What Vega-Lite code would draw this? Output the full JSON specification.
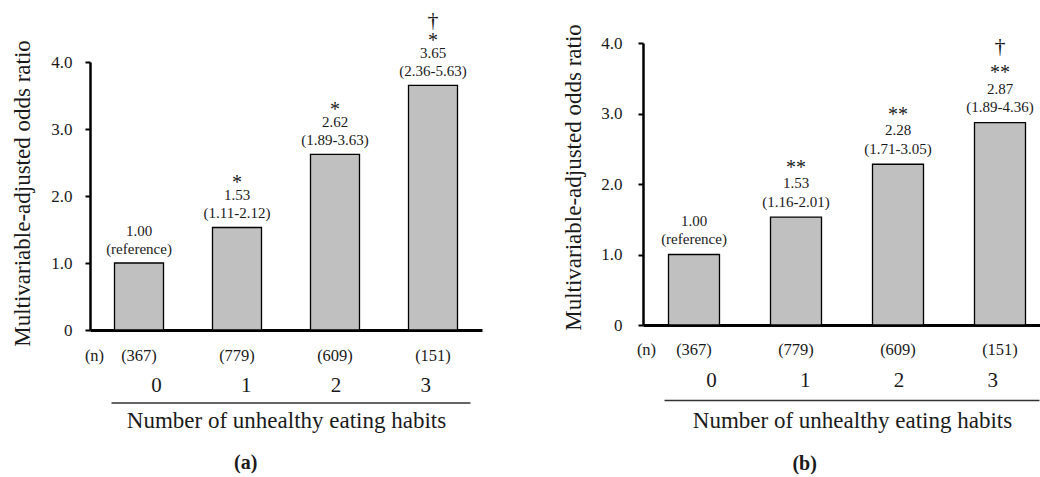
{
  "$schema": "https://vega.github.io/schema/vega-lite/v6.json",
  "width": 1040,
  "height": 477,
  "autosize": {"type": "none"},
  "padding": 0,
  "background": "white",
  "config": {
    "font": "Liberation Serif",
    "view": {"stroke": null},
    "axis": {"labelFont": "Liberation Serif", "titleFont": "Liberation Serif", "grid": false},
    "text": {"font": "Liberation Serif"}
  },
  "datasets": {
    "a": [
      {"nlab": "(367)", "cat": "0", "or": 1.00, "ci": "(reference)", "star": "", "dag": ""},
      {"nlab": "(779)", "cat": "1", "or": 1.53, "ci": "(1.11-2.12)", "star": "*", "dag": ""},
      {"nlab": "(609)", "cat": "2", "or": 2.62, "ci": "(1.89-3.63)", "star": "*", "dag": ""},
      {"nlab": "(151)", "cat": "3", "or": 3.65, "ci": "(2.36-5.63)", "star": "*", "dag": "†"}
    ],
    "b": [
      {"nlab": "(367)", "cat": "0", "or": 1.00, "ci": "(reference)", "star": "", "dag": ""},
      {"nlab": "(779)", "cat": "1", "or": 1.53, "ci": "(1.16-2.01)", "star": "**", "dag": ""},
      {"nlab": "(609)", "cat": "2", "or": 2.28, "ci": "(1.71-3.05)", "star": "**", "dag": ""},
      {"nlab": "(151)", "cat": "3", "or": 2.87, "ci": "(1.89-4.36)", "star": "**", "dag": "†"}
    ],
    "pa": [{"panel": "(a)"}],
    "pb": [{"panel": "(b)"}]
  },
  "layer": [
    {
      "layer": [
        {
          "data": {"name": "a"},
          "encoding": {
            "x": {
              "field": "nlab", "type": "nominal", "sort": null,
              "scale": {"range": [90, 482], "paddingInner": 0.5, "paddingOuter": 0.25},
              "axis": {
                "orient": "bottom", "offset": -147, "domain": true, "domainColor": "#000", "domainWidth": 3,
                "ticks": false, "tickSize": 0, "labelAngle": 0, "labelPadding": 25, "labelBaseline": "middle",
                "labelFontSize": 16.5, "labelColor": "#1a1a1a",
                "title": "(n)", "titleX": 94, "titleY": 25, "titleAngle": 0, "titleBaseline": "middle", "titleAlign": "center",
                "titleFontSize": 16.5, "titleFontWeight": "normal", "titleColor": "#1a1a1a"
              }
            },
            "y": {
              "field": "or", "type": "quantitative",
              "scale": {"domain": [0, 4], "range": [330, 62], "nice": false},
              "axis": {
                "orient": "left", "offset": -90, "values": [0, 1, 2, 3, 4],
                "labelExpr": "datum.value == 0 ? '0' : format(datum.value, '.1f')",
                "domain": true, "domainColor": "#000", "domainWidth": 2.5,
                "ticks": true, "tickSize": 5, "tickWidth": 2, "tickColor": "#000",
                "labelPadding": 13, "labelFontSize": 17, "labelColor": "#1a1a1a", "labelBaseline": "middle",
                "title": "Multivariable-adjusted odds ratio", "titleX": -68, "titleY": 193, "titleAngle": -90,
                "titleAlign": "center", "titleBaseline": "middle", "titleFontSize": 23, "titleFontWeight": "normal", "titleColor": "#1a1a1a"
              }
            }
          },
          "layer": [
            {"mark": {"type": "bar", "fill": "#c0c0c0", "stroke": "#000", "strokeWidth": 1.3}},
            {"mark": {"type": "text", "fontSize": 15, "dy": -9, "baseline": "alphabetic", "color": "#1a1a1a"}, "encoding": {"text": {"field": "ci"}}},
            {"mark": {"type": "text", "fontSize": 15, "dy": -27, "baseline": "alphabetic", "color": "#1a1a1a"}, "encoding": {"text": {"field": "or", "type": "quantitative", "format": ".2f"}}},
            {"mark": {"type": "text", "fontSize": 20, "dy": -38.5, "baseline": "alphabetic", "color": "#1a1a1a"}, "encoding": {"text": {"field": "star"}}},
            {"mark": {"type": "text", "fontSize": 22, "dy": -58.5, "baseline": "alphabetic", "color": "#1a1a1a"}, "encoding": {"text": {"field": "dag"}}}
          ]
        },
        {
          "data": {"name": "pa"},
          "mark": {"type": "text", "fontSize": 20, "fontWeight": "bold", "baseline": "middle", "color": "#1a1a1a"},
          "encoding": {
            "x": {
              "datum": "1", "type": "nominal",
              "scale": {"domain": ["0", "1", "2", "3"], "range": [111, 470], "paddingInner": 0.5, "paddingOuter": 0.076},
              "axis": {
                "orient": "bottom", "offset": -74.5, "domain": true, "domainColor": "#333", "domainWidth": 1.5,
                "ticks": false, "tickSize": 0, "labelAngle": 0, "labelPadding": -17.5, "labelBaseline": "middle",
                "labelFontSize": 21, "labelColor": "#1a1a1a",
                "title": "Number of unhealthy eating habits", "titleX": 286, "titleY": 24.5, "titleBaseline": "alphabetic",
                "titleAlign": "center", "titleFontSize": 23, "titleFontWeight": "normal", "titleColor": "#1a1a1a"
              }
            },
            "y": {"datum": -1.98, "type": "quantitative", "scale": {"domain": [0, 4], "range": [330, 62], "nice": false}},
            "text": {"field": "panel"}
          }
        }
      ],
      "resolve": {"scale": {"x": "independent"}, "axis": {"x": "independent"}}
    },
    {
      "layer": [
        {
          "data": {"name": "b"},
          "encoding": {
            "x": {
              "field": "nlab", "type": "nominal", "sort": null,
              "scale": {"range": [643, 1051], "paddingInner": 0.5, "paddingOuter": 0.25},
              "axis": {
                "orient": "bottom", "offset": -152, "domain": true, "domainColor": "#000", "domainWidth": 3,
                "ticks": false, "tickSize": 0, "labelAngle": 0, "labelPadding": 24, "labelBaseline": "middle",
                "labelFontSize": 16.5, "labelColor": "#1a1a1a",
                "title": "(n)", "titleX": 646, "titleY": 24, "titleAngle": 0, "titleBaseline": "middle", "titleAlign": "center",
                "titleFontSize": 16.5, "titleFontWeight": "normal", "titleColor": "#1a1a1a"
              }
            },
            "y": {
              "field": "or", "type": "quantitative",
              "scale": {"domain": [0, 4], "range": [325, 43], "nice": false},
              "axis": {
                "orient": "left", "offset": -643, "values": [0, 1, 2, 3, 4],
                "labelExpr": "datum.value == 0 ? '0' : format(datum.value, '.1f')",
                "domain": true, "domainColor": "#000", "domainWidth": 2.5,
                "ticks": true, "tickSize": 5, "tickWidth": 2, "tickColor": "#000",
                "labelPadding": 16, "labelFontSize": 17, "labelColor": "#1a1a1a", "labelBaseline": "middle",
                "title": "Multivariable-adjusted odds ratio", "titleX": -70, "titleY": 177, "titleAngle": -90,
                "titleAlign": "center", "titleBaseline": "middle", "titleFontSize": 23, "titleFontWeight": "normal", "titleColor": "#1a1a1a"
              }
            }
          },
          "layer": [
            {"mark": {"type": "bar", "fill": "#c0c0c0", "stroke": "#000", "strokeWidth": 1.3}},
            {"mark": {"type": "text", "fontSize": 15, "dy": -10.5, "baseline": "alphabetic", "color": "#1a1a1a"}, "encoding": {"text": {"field": "ci"}}},
            {"mark": {"type": "text", "fontSize": 15, "dy": -29, "baseline": "alphabetic", "color": "#1a1a1a"}, "encoding": {"text": {"field": "or", "type": "quantitative", "format": ".2f"}}},
            {"mark": {"type": "text", "fontSize": 20, "dy": -43.5, "baseline": "alphabetic", "color": "#1a1a1a"}, "encoding": {"text": {"field": "star"}}},
            {"mark": {"type": "text", "fontSize": 22, "dy": -69.5, "baseline": "alphabetic", "color": "#1a1a1a"}, "encoding": {"text": {"field": "dag"}}}
          ]
        },
        {
          "data": {"name": "pb"},
          "mark": {"type": "text", "fontSize": 20, "fontWeight": "bold", "baseline": "middle", "color": "#1a1a1a"},
          "encoding": {
            "x": {
              "datum": "1", "type": "nominal",
              "scale": {"domain": ["0", "1", "2", "3"], "range": [664, 1039], "paddingInner": 0.5, "paddingOuter": 0.076},
              "axis": {
                "orient": "bottom", "offset": -77, "domain": true, "domainColor": "#333", "domainWidth": 1.5,
                "ticks": false, "tickSize": 0, "labelAngle": 0, "labelPadding": -20, "labelBaseline": "middle",
                "labelFontSize": 21, "labelColor": "#1a1a1a",
                "title": "Number of unhealthy eating habits", "titleX": 852, "titleY": 27, "titleBaseline": "alphabetic",
                "titleAlign": "center", "titleFontSize": 23, "titleFontWeight": "normal", "titleColor": "#1a1a1a"
              }
            },
            "y": {"datum": -1.97, "type": "quantitative", "scale": {"domain": [0, 4], "range": [325, 43], "nice": false}},
            "text": {"field": "panel"}
          }
        }
      ],
      "resolve": {"scale": {"x": "independent"}, "axis": {"x": "independent"}}
    }
  ],
  "resolve": {"scale": {"x": "independent", "y": "independent"}, "axis": {"x": "independent", "y": "independent"}}
}
